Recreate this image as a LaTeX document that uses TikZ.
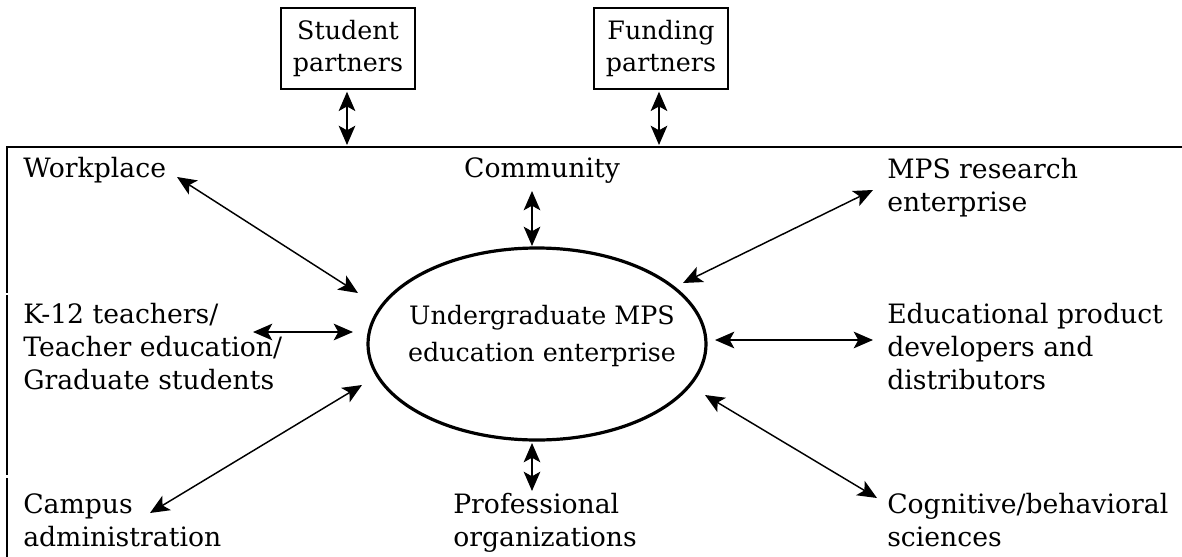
\documentclass[tikz,border=0pt]{standalone}
\usepackage{fontspec}
\setmainfont{DejaVu Serif}
\usetikzlibrary{arrows.meta,shapes.geometric}
\newcommand{\mylines}[2][l]{\begin{tabular}[t]{@{}#1@{}}#2\end{tabular}}
\begin{document}
\begin{tikzpicture}[x=0.75pt,y=-0.75pt,
  lbl/.style={anchor=base west, inner sep=0pt, font=\fontsize{20}{24.75}\selectfont},
  partner/.style={draw, line width=1.1pt, minimum width=100.5pt, minimum height=60.75pt, inner sep=0pt, align=center, font=\fontsize{19}{23.5}\selectfont},
  ellbox/.style={draw, ellipse, line width=2.4pt, minimum width=253.5pt, minimum height=144pt, inner sep=0pt},
  tip/.style={Stealth[length=14.5pt,width=12.5pt,inset=3.5pt]},
  dbl/.style={{Stealth[length=14.5pt,width=12.5pt,inset=3.5pt]}-{Stealth[length=14.5pt,width=12.5pt,inset=3.5pt]}, line width=1.1pt},
  frame/.style={line width=1.6pt}]
\useasboundingbox (0,0) rectangle (1182,557);

% frame
\coordinate (tl) at (7,147);
\coordinate (tr) at (1182,147);
\draw[frame] (tr) -- (tl) -- (7,293);
\draw[frame] (7,295) -- (7,475);
\draw[frame] (7,478) -- (7,557);

% partner boxes
\node[partner] (stud) at (348,48.5) {Student\\partners};
\node[partner] (fund) at (661,48.5) {Funding\\partners};
\coordinate (studL) at (347,145);
\coordinate (fundL) at (659,145);
\draw[dbl] (stud.south -| studL) ++(0,2) coordinate (studT) (studT) -- (studL);
\draw[dbl] (fund.south -| fundL) ++(0,2) coordinate (fundT) (fundT) -- (fundL);

% central ellipse
\node[ellbox] (ell) at (537,344) {};
\node[lbl, anchor=base, font=\fontsize{19}{24.75}\selectfont] (elltxt) at (542,324) {\mylines[c]{Undergraduate MPS\\[3pt]education enterprise}};

% labels
\node[lbl] (wp) at (23,177) {Workplace};
\node[lbl, anchor=base] (comm) at (542,177) {Community};
\node[lbl] (mps) at (887,178) {\mylines{MPS research\\enterprise}};
\node[lbl] (k12) at (23,323) {\mylines{K-12 teachers/\\Teacher education/\\Graduate students}};
\node[lbl] (edu) at (887,323) {\mylines{Educational product\\developers and\\distributors}};
\node[lbl] (camp) at (23,513) {\mylines{Campus\\administration}};
\node[lbl] (prof) at (453,513) {\mylines{Professional\\organizations}};
\node[lbl] (cog) at (887,513) {\mylines{Cognitive/behavioral\\sciences}};

% connector end points
\coordinate (commA) at (532,191); \coordinate (commB) at (532,246);
\coordinate (wpA) at (177,177);   \coordinate (wpB) at (358,293);
\coordinate (k12A) at (253,332);  \coordinate (k12B) at (353,332);
\coordinate (campA) at (150,513); \coordinate (campB) at (362,385);
\coordinate (mpsA) at (873,190);  \coordinate (mpsB) at (683,283);
\coordinate (eduA) at (873,340);  \coordinate (eduB) at (715,340);
\coordinate (cogA) at (877,498);  \coordinate (cogB) at (705,395);
\coordinate (profA) at (532,491); \coordinate (profB) at (532,443);

\draw[dbl] (commA) -- (commB);
\draw[dbl] (wpA) -- (wpB);
\draw[dbl] (k12A) -- (k12B);
\draw[dbl] (campA) -- (campB);
\draw[dbl] (mpsA) -- (mpsB);
\draw[dbl] (eduA) -- (eduB);
\draw[dbl] (cogA) -- (cogB);
\draw[dbl] (profA) -- (profB);
\end{tikzpicture}
\end{document}
